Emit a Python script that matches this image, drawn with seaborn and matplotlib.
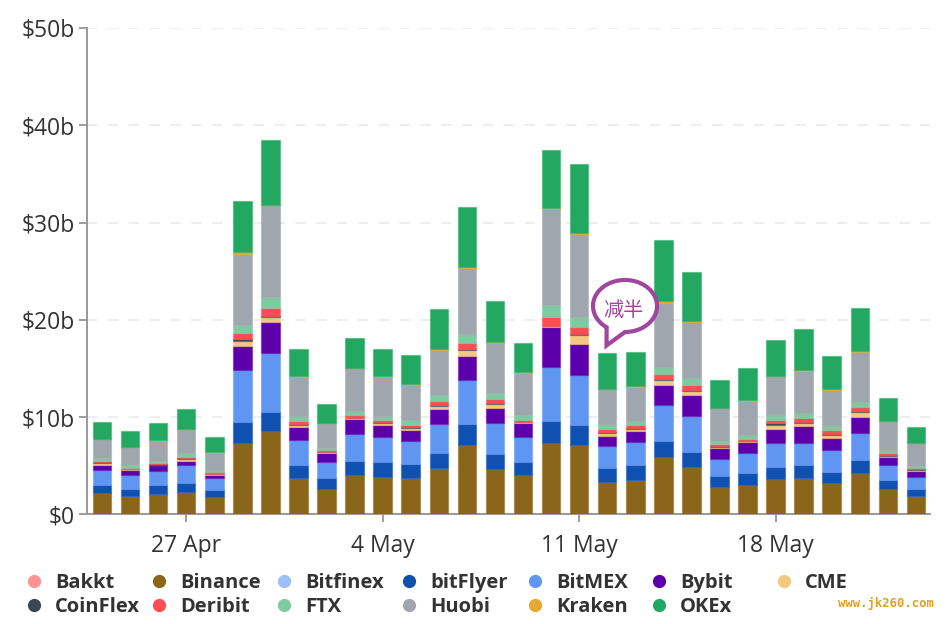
import numpy as np
import pandas as pd
import seaborn as sns
import matplotlib
matplotlib.use("Agg")
import matplotlib.pyplot as plt
from matplotlib.lines import Line2D
from matplotlib.patches import Polygon
from matplotlib.transforms import Affine2D

days = list(range(30))
tick_days = [3, 10, 17, 24]
tick_labels = ["27 Apr", "4 May", "11 May", "18 May"]
y_ticks = [0, 10, 20, 30, 40, 50]
y_labels = ["$0", "$10b", "$20b", "$30b", "$40b", "$50b"]

exchanges = ["Bakkt", "Binance", "Bitfinex", "bitFlyer", "BitMEX", "Bybit", "CME",
             "CoinFlex", "Deribit", "FTX", "Huobi", "Kraken", "OKEx"]
colors = ["#FF9494", "#8B651A", "#9DBEF8", "#1050B0", "#5F96F2", "#5B00AB", "#F2C97E",
          "#3A4654", "#FF4D52", "#7DCBA0", "#9FA6AD", "#E6A82E", "#22A861"]

bakkt = [0.0] * 30
bitfinex = [0.0] * 30
binance = [2.16,1.89,2.09,2.30,1.75,7.37,8.54,3.77,2.64,4.08,3.88,3.70,4.73,7.13,4.63,4.05,7.37,7.10,3.33,3.53,5.86,4.84,2.78,2.98,3.60,3.70,3.26,4.29,2.57,1.89]
bitflyer = [.89,.75,.89,.96,.75,2.13,1.99,1.27,1.13,1.44,1.54,1.44,1.61,2.19,1.54,1.34,2.26,2.13,1.47,1.54,1.65,1.61,1.20,1.30,1.30,1.41,1.10,1.27,.99,.75]
bitmex = [1.51,1.44,1.51,1.78,1.20,5.35,6.04,2.64,1.65,2.78,2.54,2.37,2.98,4.53,3.26,2.57,5.49,5.11,2.26,2.37,3.74,3.67,1.75,2.02,2.43,2.26,2.26,2.78,1.54,1.20]
bybit = [.51,.51,.55,.48,.38,2.50,3.19,1.34,.93,1.54,1.23,1.17,1.51,2.43,1.54,1.47,4.12,3.22,1.03,1.10,2.06,2.13,1.13,1.17,1.44,1.68,1.20,1.68,.82,.65]
cme = [.24,.07,.07,.14,.07,.51,.51,.20,.07,.07,.20,.20,.34,.65,.38,.07,.07,.89,.31,.24,.48,.45,.07,.03,.45,.34,.34,.51,.07,.07]
coinflex = [.07,.03,.03,.10,.03,.14,.10,.10,.03,.03,.10,.10,.07,.10,.07,.03,.10,.10,.07,.10,.14,.10,.10,.03,.14,.14,.14,.14,.10,.07]
deribit = [.14,.10,.10,.17,.14,.69,.89,.27,.14,.24,.20,.20,.38,.58,.41,.20,.89,.75,.31,.31,.51,.48,.17,.24,.38,.41,.34,.41,.24,.14]
ftx = [.24,.24,.27,.34,.24,.75,1.06,.48,.24,.48,.45,.48,.62,.89,.62,.45,1.20,.96,.48,.45,.75,.72,.31,.34,.55,.51,.48,.51,.31,.17]
huobi = [1.95,1.85,2.06,2.47,1.78,7.37,9.43,4.05,2.57,4.39,3.98,3.67,4.70,6.86,5.21,4.39,9.88,8.57,3.60,3.46,6.58,5.80,3.40,3.53,3.88,4.32,3.64,5.14,2.91,2.37]
kraken = [.03,.03,.03,.03,.03,.17,.10,.07,.03,.03,.07,.07,.07,.10,.07,.07,.14,.10,.03,.10,.14,.10,.07,.07,.10,.10,.10,.10,.03,.03]
okex = [1.71,1.65,1.75,2.10,1.55,5.21,6.62,2.85,1.96,3.00,2.85,2.95,4.08,6.10,4.15,2.95,5.93,7.06,3.67,3.53,6.34,5.04,2.85,3.36,3.67,4.15,3.43,4.36,2.33,1.68]

series = [bakkt, binance, bitfinex, bitflyer, bitmex, bybit, cme, coinflex, deribit, ftx, huobi, kraken, okex]

sns.set_theme(style="white")
plt.rcParams["font.family"] = ["Open Sans", "Noto Sans CJK SC", "DejaVu Sans"]

W, H = 948, 624
fig = plt.figure(figsize=(W / 100, H / 100), dpi=100)
ax = fig.add_axes([87 / W, 1 - 514.3 / H, (930 - 87) / W, (514.3 - 28) / H])

df = pd.DataFrame({
    "day": np.tile(days, len(exchanges)),
    "exchange": np.repeat(exchanges, len(days)),
    "volume": np.concatenate(series),
})
# seaborn stacks the first hue level on top, so the order is reversed to put Bakkt at the base
sns.histplot(data=df, x="day", weights="volume", hue="exchange", hue_order=exchanges[::-1],
             palette=dict(zip(exchanges, colors)), multiple="stack", discrete=True,
             shrink=0.66, alpha=1, linewidth=0.9, legend=False, ax=ax, zorder=3)
for p in ax.patches:
    r, g, b, _ = p.get_facecolor()
    p.set_edgecolor((r, g, b, 0.45))

ax.set_xlim(-0.534, 29.5)
ax.set_ylim(0, 50)
ax.set_xlabel("")
ax.set_ylabel("")
ax.set_xticks(tick_days, tick_labels)
ax.set_yticks(y_ticks, y_labels)
ax.tick_params(axis="both", labelsize=16.5, labelcolor="#333333", length=6, width=1.2,
               color="#8c8c8c", left=True, bottom=True)
ax.tick_params(axis="x", pad=8)
ax.tick_params(axis="y", pad=2.5)
ax.grid(axis="y", color="#eeeeee", lw=1.5, dashes=(5, 5), zorder=0)
ax.set_axisbelow(True)
sns.despine(ax=ax)
for side in ("left", "bottom"):
    ax.spines[side].set_color("#999999")
    ax.spines[side].set_linewidth(1.4)

# legend: one block per column, evenly spaced
col_x = [24, 149, 274, 399, 525, 649, 774]
for c, x in enumerate(col_x):
    idx = [c, c + 7] if c + 7 < len(exchanges) else [c]
    handles = [Line2D([], [], ls="", marker="o", ms=8.5, color=colors[i], label=exchanges[i]) for i in idx]
    fig.legend(handles=handles, loc="upper left", bbox_to_anchor=(x / W, 1 - 573 / H), frameon=False,
               prop={"size": 14.5, "weight": "bold"}, labelcolor="#333333", borderaxespad=0, borderpad=0,
               handletextpad=0.55, handlelength=1.0, labelspacing=0.18)

# callout bubble, in figure pixels
px = Affine2D().scale(1 / W, -1 / H).translate(0, 1) + fig.transFigure
cx, cy, rx, ry = 625, 306, 32, 26
a = np.linspace(np.deg2rad(125), np.deg2rad(125 + 325), 140)
pts = np.c_[cx + rx * np.cos(a), cy + ry * np.sin(a)]
pts = np.vstack([pts, [[606.5, 345.5]]])
fig.add_artist(Polygon(pts, closed=True, fc="white", ec="#A0469F", lw=3, transform=px, zorder=5, joinstyle="miter"))
fig.text(623 / W, 1 - 310 / H, "减半", color="#A0469F", fontsize=14.5, ha="center", va="center",
         family=["Noto Sans CJK SC", "DejaVu Sans"], zorder=6)

fig.text(934 / W, 1 - 604 / H, "www.jk260.com", color="#E0A020", fontsize=8.8, weight="bold",
         family="DejaVu Sans Mono", ha="right", va="center")

fig.savefig("out.png", dpi=100)
